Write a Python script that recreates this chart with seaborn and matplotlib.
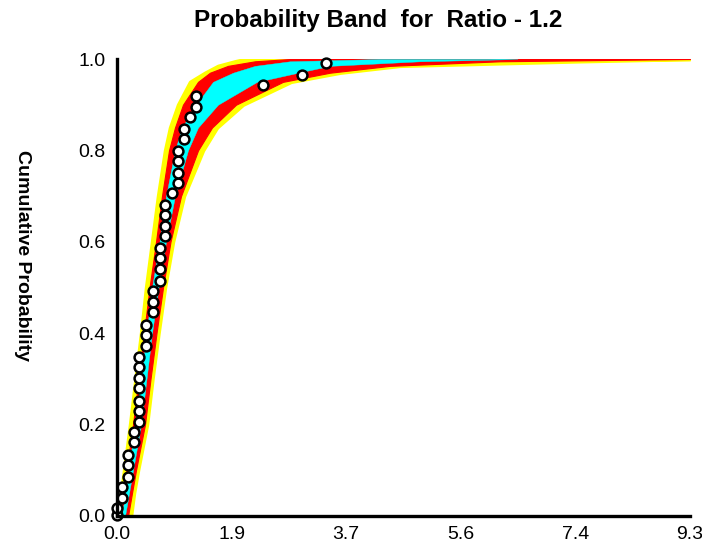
import matplotlib
matplotlib.use("Agg")
import matplotlib.pyplot as plt
import seaborn as sns
import numpy as np
import pandas as pd

# ---- data ----
title = "Probability Band  for  Ratio - 1.2"
ylabel = "Cumulative Probability"
xtick_vals = [0.0, 1.86, 3.72, 5.58, 7.44, 9.3]
xtick_labels = ["0.0", "1.9", "3.7", "5.6", "7.4", "9.3"]
ytick_vals = [0.0, 0.2, 0.4, 0.6, 0.8, 1.0]
ytick_labels = ["0.0", "0.2", "0.4", "0.6", "0.8", "1.0"]

# probability levels for band edges
band_p = [0.0, 0.05, 0.10, 0.20, 0.30, 0.40, 0.50, 0.60, 0.70, 0.80, 0.85,
          0.90, 0.95, 0.97, 0.985, 0.995, 1.0]
yellow_left = [0.016, 0.065, 0.114, 0.211, 0.300, 0.390, 0.471, 0.568, 0.665,
               0.779, 0.860, 0.990, 1.185, 1.428, 1.639, 1.915, 2.078]
red_left = [0.049, 0.097, 0.154, 0.260, 0.349, 0.438, 0.528, 0.633, 0.730,
            0.844, 0.941, 1.071, 1.315, 1.509, 1.802, 2.240, 2.808]
cyan_left = [0.081, 0.130, 0.187, 0.292, 0.390, 0.479, 0.568, 0.690, 0.795,
             0.941, 1.055, 1.282, 1.558, 1.883, 2.240, 2.808, 4.269]
cyan_right = [0.130, 0.195, 0.260, 0.390, 0.479, 0.568, 0.674, 0.795, 0.941,
              1.152, 1.315, 1.639, 2.272, 2.938, 3.457, 4.918, 6.500]
red_right = [0.179, 0.243, 0.308, 0.454, 0.544, 0.641, 0.747, 0.868, 1.039,
             1.315, 1.542, 1.932, 2.694, 3.457, 4.431, 6.217, 9.3]
yellow_right = [0.227, 0.276, 0.341, 0.487, 0.576, 0.674, 0.779, 0.909, 1.087,
                1.396, 1.623, 2.045, 2.824, 3.620, 4.593, 7.515, 9.3]

# observed points
obs_x = [0.0, 0.0, 0.086, 0.086, 0.174, 0.174, 0.174, 0.271, 0.271, 0.362,
         0.362, 0.362, 0.362, 0.362, 0.362, 0.362, 0.471, 0.471, 0.471, 0.579,
         0.579, 0.579, 0.698, 0.698, 0.698, 0.698, 0.779, 0.779, 0.779, 0.779,
         0.888, 0.985, 0.985, 0.985, 0.985, 1.092, 1.092, 1.185, 1.282, 1.282,
         2.375, 2.998, 3.392]
obs_p = [0.002, 0.017, 0.039, 0.064, 0.086, 0.112, 0.133, 0.161, 0.183, 0.205,
         0.230, 0.252, 0.280, 0.301, 0.327, 0.349, 0.372, 0.396, 0.419, 0.446,
         0.468, 0.493, 0.515, 0.540, 0.564, 0.586, 0.612, 0.634, 0.659, 0.681,
         0.707, 0.729, 0.751, 0.777, 0.799, 0.825, 0.847, 0.874, 0.896, 0.918,
         0.944, 0.966, 0.992]

sns.set_style("white")
plt.rcParams['font.family'] = ['Liberation Sans', 'DejaVu Sans']
plt.rcParams['text.color'] = 'black'
plt.rcParams['axes.labelcolor'] = 'black'
plt.rcParams['xtick.color'] = 'black'
plt.rcParams['ytick.color'] = 'black'

fig = plt.figure(figsize=(7.02, 5.50), dpi=100)
ax = fig.add_axes([117/702, 34/550, 573/702, 457/550])

ax.fill_betweenx(band_p, yellow_left, yellow_right, color="#FFFF00",
                 edgecolor="#FFFF00", linewidth=2.5, zorder=1)
ax.fill_betweenx(band_p, red_left, red_right, color="#FF0000",
                 edgecolor="#FF0000", linewidth=0.8, zorder=2)
ax.fill_betweenx(band_p, cyan_left, cyan_right, color="#00FFFF",
                 edgecolor="#00FFFF", linewidth=0.3, zorder=3)

df = pd.DataFrame({"x": obs_x, "p": obs_p})
sns.scatterplot(data=df, x="x", y="p", ax=ax, s=50, color="white",
                edgecolor="black", linewidth=1.8, zorder=5, clip_on=False)

ax.set_xlim(0, 9.3)
ax.set_ylim(0, 1.0)
ax.set_xticks(xtick_vals)
ax.set_xticklabels(xtick_labels)
ax.set_yticks(ytick_vals)
ax.set_yticklabels(ytick_labels)
ax.set_xlabel("")
ax.set_ylabel("")
for s in ["top", "right"]:
    ax.spines[s].set_visible(False)
for s in ["left", "bottom"]:
    ax.spines[s].set_linewidth(2.4)
    ax.spines[s].set_color("black")
    ax.spines[s].set_zorder(6)
ax.tick_params(axis="both", direction="inout", length=15, width=2.4,
               labelsize=14, colors="black", pad=1)
ax.tick_params(axis="x", pad=0)

fig.text(378/702, 1 - 21/550, title, ha="center", va="center",
         fontsize=17.5, fontweight="bold")
fig.text(22/702, 1 - 255/550, ylabel, ha="center", va="center",
         rotation=270, fontsize=14, fontweight="bold")

fig.savefig("out.png", dpi=100)
